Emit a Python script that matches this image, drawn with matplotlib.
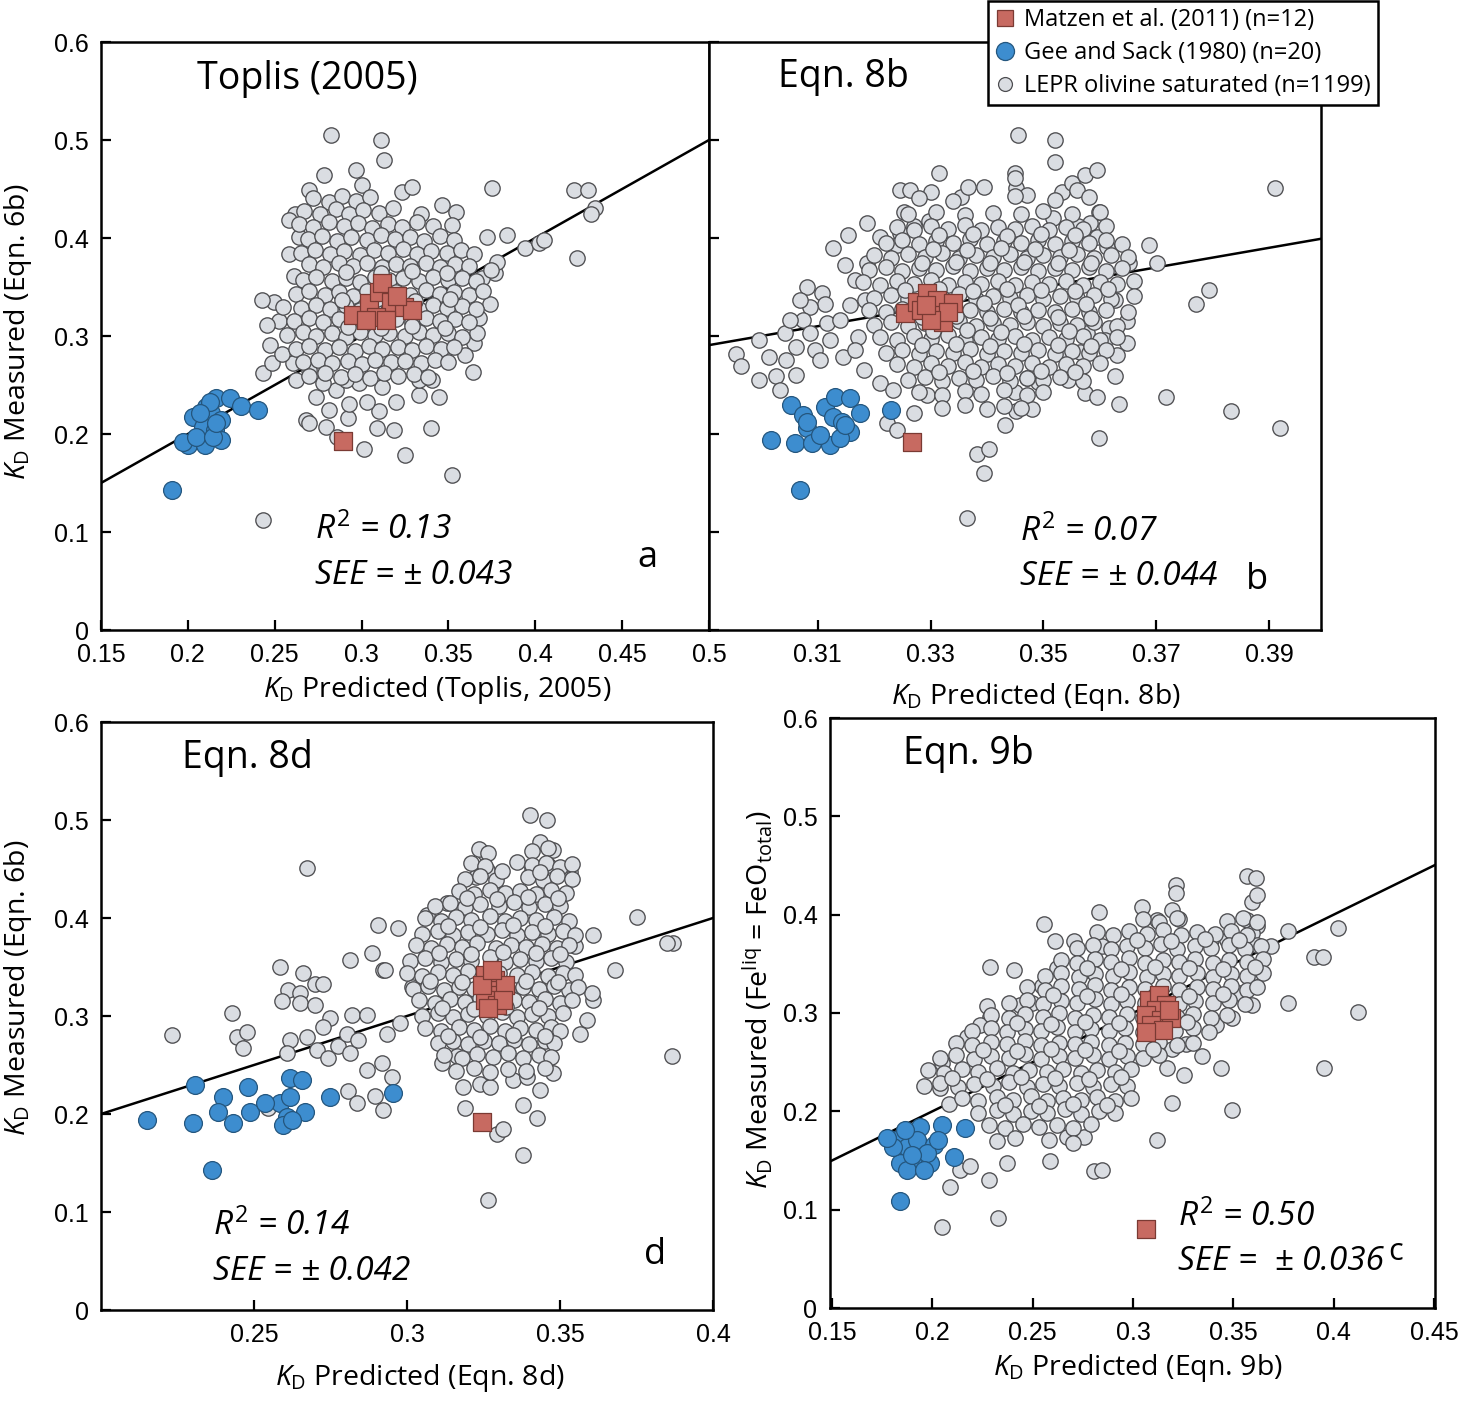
import matplotlib.pyplot as plt
import numpy as np
from matplotlib.lines import Line2D

plt.rcParams['font.family'] = ['Open Sans', 'DejaVu Sans']
plt.rcParams['mathtext.fontset'] = 'custom'
plt.rcParams['mathtext.rm'] = 'Open Sans'
plt.rcParams['mathtext.it'] = 'Open Sans:italic'

# ---- Toplis (2005) panel: [KD predicted, KD measured]
lepr_toplis = np.array([
    # scattered points around the main cloud
    [0.2825, 0.505], [0.3112, 0.500], [0.3129, 0.480], [0.2967, 0.469], [0.2785, 0.464], [0.2699, 0.449],
    [0.3005, 0.454], [0.3234, 0.447], [0.3292, 0.452], [0.3464, 0.434], [0.3541, 0.427], [0.3521, 0.413],
    [0.3751, 0.451], [0.4220, 0.449], [0.4306, 0.449], [0.4346, 0.431], [0.4323, 0.424], [0.3722, 0.401],
    [0.3837, 0.403], [0.3942, 0.390], [0.4019, 0.395], [0.4053, 0.398], [0.4242, 0.380], [0.3770, 0.364],
    [0.3694, 0.359], [0.3741, 0.333], [0.3674, 0.318], [0.3646, 0.293], [0.3640, 0.263], [0.3594, 0.281],
    [0.3663, 0.303], [0.3778, 0.376], [0.3743, 0.367], [0.2619, 0.425], [0.2584, 0.418], [0.2642, 0.401],
    [0.2584, 0.384], [0.2613, 0.361], [0.2498, 0.335], [0.2527, 0.315], [0.2546, 0.330], [0.2429, 0.337],
    [0.2458, 0.311], [0.2431, 0.262], [0.2487, 0.272], [0.2603, 0.272], [0.2699, 0.265], [0.2623, 0.255],
    [0.2680, 0.214], [0.2699, 0.211], [0.2814, 0.225], [0.2795, 0.207], [0.2919, 0.216], [0.2861, 0.197],
    [0.3091, 0.206], [0.3187, 0.204], [0.3397, 0.206], [0.3445, 0.238], [0.3330, 0.240], [0.3197, 0.233],
    [0.3101, 0.223], [0.3034, 0.233], [0.2929, 0.231], [0.2852, 0.245], [0.2776, 0.252], [0.2738, 0.238],
    [0.3407, 0.255], [0.3330, 0.255], [0.3120, 0.248], [0.2986, 0.252], [0.2910, 0.255], [0.2470, 0.291],
    [0.2544, 0.282], [0.2435, 0.112], [0.3520, 0.158], [0.3250, 0.179], [0.3015, 0.185],
    # dense cloud
    [0.272, 0.441], [0.281, 0.437], [0.289, 0.443], [0.297, 0.438], [0.305, 0.442],
    [0.267, 0.428], [0.276, 0.425], [0.285, 0.430], [0.293, 0.424], [0.301, 0.429], [0.310, 0.426],
    [0.318, 0.431], [0.334, 0.424],
    [0.264, 0.414], [0.272, 0.411], [0.281, 0.416], [0.290, 0.412], [0.298, 0.415], [0.306, 0.410],
    [0.315, 0.414], [0.323, 0.411], [0.332, 0.416], [0.341, 0.412],
    [0.269, 0.399], [0.277, 0.402], [0.286, 0.397], [0.294, 0.401], [0.303, 0.398], [0.311, 0.403],
    [0.319, 0.399], [0.328, 0.401], [0.336, 0.397], [0.345, 0.402], [0.353, 0.398],
    [0.265, 0.385], [0.273, 0.388], [0.282, 0.384], [0.290, 0.387], [0.299, 0.383], [0.307, 0.388],
    [0.315, 0.385], [0.324, 0.389], [0.332, 0.384], [0.340, 0.387], [0.349, 0.385], [0.357, 0.388],
    [0.365, 0.384],
    [0.270, 0.373], [0.278, 0.370], [0.287, 0.374], [0.295, 0.371], [0.303, 0.375], [0.312, 0.370],
    [0.320, 0.373], [0.328, 0.371], [0.337, 0.374], [0.345, 0.370], [0.354, 0.373], [0.362, 0.371],
    [0.266, 0.357], [0.274, 0.360], [0.283, 0.356], [0.291, 0.359], [0.299, 0.355], [0.308, 0.360],
    [0.316, 0.357], [0.324, 0.359], [0.333, 0.356], [0.341, 0.360], [0.350, 0.357], [0.358, 0.359],
    [0.366, 0.356],
    [0.262, 0.343], [0.270, 0.346], [0.279, 0.342], [0.287, 0.345], [0.295, 0.341], [0.303, 0.346],
    [0.312, 0.343], [0.320, 0.345], [0.328, 0.342], [0.337, 0.347], [0.345, 0.343], [0.353, 0.345],
    [0.362, 0.342], [0.370, 0.346],
    [0.265, 0.329], [0.274, 0.332], [0.282, 0.328], [0.291, 0.331], [0.299, 0.327], [0.307, 0.332],
    [0.316, 0.329], [0.324, 0.331], [0.333, 0.328], [0.341, 0.332], [0.349, 0.329], [0.358, 0.331],
    [0.366, 0.328],
    [0.261, 0.315], [0.270, 0.318], [0.278, 0.314], [0.287, 0.317], [0.295, 0.313], [0.303, 0.318],
    [0.312, 0.315], [0.320, 0.317], [0.329, 0.314], [0.337, 0.318], [0.345, 0.315], [0.354, 0.317],
    [0.362, 0.314],
    [0.257, 0.301], [0.266, 0.304], [0.274, 0.300], [0.283, 0.303], [0.291, 0.299], [0.299, 0.304],
    [0.308, 0.301], [0.316, 0.303], [0.325, 0.300], [0.333, 0.304], [0.341, 0.301], [0.350, 0.303],
    [0.358, 0.299],
    [0.262, 0.287], [0.270, 0.290], [0.279, 0.286], [0.287, 0.289], [0.296, 0.285], [0.304, 0.290],
    [0.312, 0.287], [0.321, 0.289], [0.329, 0.286], [0.337, 0.290], [0.346, 0.287], [0.353, 0.289],
    [0.266, 0.273], [0.275, 0.276], [0.283, 0.272], [0.292, 0.275], [0.300, 0.271], [0.308, 0.276],
    [0.317, 0.273], [0.325, 0.275], [0.334, 0.272], [0.342, 0.276], [0.350, 0.273],
    [0.270, 0.259], [0.279, 0.262], [0.288, 0.258], [0.296, 0.261], [0.305, 0.257], [0.313, 0.262],
    [0.321, 0.259], [0.330, 0.261], [0.338, 0.258],
    [0.291, 0.365], [0.311, 0.364], [0.329, 0.366], [0.349, 0.364],
    [0.289, 0.337], [0.309, 0.338], [0.331, 0.336], [0.351, 0.338],
    [0.292, 0.309], [0.311, 0.308], [0.329, 0.310], [0.348, 0.308],
])
gee_toplis = np.array([
    [0.2164, 0.2364], [0.2240, 0.2364], [0.2307, 0.2286], [0.2402, 0.2245], [0.2030, 0.2177],
    [0.2106, 0.2279], [0.2135, 0.2211], [0.2192, 0.2143], [0.2087, 0.2074], [0.2154, 0.2041],
    [0.2192, 0.1939], [0.2001, 0.1888], [0.2097, 0.1888], [0.1972, 0.1921], [0.2049, 0.1972],
    [0.2144, 0.1972], [0.1906, 0.1429], [0.2125, 0.2330], [0.2164, 0.2109], [0.2068, 0.2211],
])
matzen_toplis = np.array([
    [0.2948, 0.3214], [0.3043, 0.3334], [0.3101, 0.3452], [0.3168, 0.3350], [0.3244, 0.3299],
    [0.3082, 0.3197], [0.3139, 0.3163], [0.3024, 0.3163], [0.3292, 0.3265], [0.3120, 0.3538],
    [0.3204, 0.3408], [0.2894, 0.1929],
])

# ---- Eqn. 8b panel
lepr_8b = np.array([
    [0.3455, 0.505], [0.3520, 0.500], [0.3520, 0.478], [0.3449, 0.466], [0.3452, 0.451], [0.3470, 0.444],
    [0.3532, 0.447], [0.3550, 0.456], [0.3574, 0.464], [0.3595, 0.469], [0.3559, 0.449], [0.3598, 0.427],
    [0.3517, 0.420], [0.3583, 0.415], [0.3562, 0.412], [0.3595, 0.401], [0.3613, 0.391], [0.3687, 0.393],
    [0.3651, 0.374], [0.3702, 0.374], [0.3794, 0.347], [0.3770, 0.333], [0.3910, 0.451], [0.3627, 0.337],
    [0.3648, 0.315], [0.3616, 0.308], [0.3609, 0.296], [0.3648, 0.293], [0.3630, 0.281], [0.3565, 0.284],
    [0.3532, 0.282], [0.3577, 0.303], [0.3627, 0.259], [0.3544, 0.255], [0.3574, 0.242], [0.3595, 0.238],
    [0.3633, 0.231], [0.3717, 0.238], [0.3833, 0.223], [0.3919, 0.206], [0.3598, 0.196], [0.3479, 0.226],
    [0.3452, 0.223], [0.3491, 0.253], [0.3470, 0.257], [0.3431, 0.209], [0.3449, 0.243],
    [0.2955, 0.282], [0.2964, 0.269], [0.3014, 0.279], [0.3026, 0.259], [0.3044, 0.276], [0.3062, 0.260],
    [0.3041, 0.303], [0.3080, 0.350], [0.3107, 0.344], [0.3113, 0.333], [0.3086, 0.330], [0.3074, 0.316],
    [0.3116, 0.313], [0.3086, 0.303], [0.3095, 0.286], [0.3104, 0.276], [0.3062, 0.289], [0.3127, 0.390],
    [0.3154, 0.403], [0.3187, 0.415], [0.3211, 0.401], [0.3166, 0.357], [0.3187, 0.374], [0.3145, 0.279],
    [0.3184, 0.337], [0.3172, 0.299], [0.3181, 0.265], [0.3211, 0.252], [0.3234, 0.245], [0.3294, 0.240],
    [0.3223, 0.211], [0.3241, 0.204], [0.3270, 0.221], [0.3246, 0.449], [0.3264, 0.449], [0.3300, 0.447],
    [0.3315, 0.466], [0.3252, 0.427], [0.3270, 0.412], [0.3297, 0.417], [0.3246, 0.405], [0.3241, 0.393],
    [0.3354, 0.442], [0.3366, 0.452], [0.3395, 0.452], [0.3449, 0.461], [0.3383, 0.180], [0.3404, 0.185],
    [0.3395, 0.160], [0.3364, 0.114], [0.2996, 0.296], [0.3050, 0.316], [0.3068, 0.337], [0.3032, 0.245],
    [0.2996, 0.255], [0.3121, 0.296], [0.3139, 0.316], [0.3157, 0.332], [0.3148, 0.372], [0.3166, 0.286],
    # dense cloud
    [0.328, 0.441], [0.334, 0.438], [0.345, 0.443], [0.352, 0.439], [0.358, 0.442],
    [0.326, 0.424], [0.331, 0.427], [0.336, 0.423], [0.341, 0.426], [0.346, 0.424], [0.350, 0.428],
    [0.355, 0.424], [0.360, 0.427],
    [0.324, 0.411], [0.327, 0.408], [0.330, 0.412], [0.333, 0.409], [0.336, 0.413], [0.339, 0.408],
    [0.342, 0.411], [0.345, 0.409], [0.348, 0.412], [0.351, 0.408], [0.354, 0.411], [0.357, 0.409],
    [0.361, 0.412],
    [0.322, 0.395], [0.325, 0.398], [0.328, 0.394], [0.331, 0.397], [0.334, 0.395], [0.337, 0.399],
    [0.340, 0.394], [0.343, 0.397], [0.346, 0.395], [0.349, 0.398], [0.352, 0.394], [0.355, 0.397],
    [0.358, 0.395], [0.361, 0.398], [0.364, 0.394],
    [0.320, 0.383], [0.323, 0.380], [0.326, 0.384], [0.329, 0.381], [0.332, 0.385], [0.335, 0.380],
    [0.338, 0.383], [0.341, 0.381], [0.344, 0.384], [0.347, 0.380], [0.350, 0.383], [0.353, 0.381],
    [0.356, 0.384], [0.359, 0.380], [0.362, 0.383], [0.365, 0.381],
    [0.319, 0.367], [0.322, 0.370], [0.325, 0.366], [0.328, 0.369], [0.331, 0.367], [0.334, 0.371],
    [0.337, 0.366], [0.340, 0.369], [0.343, 0.367], [0.346, 0.370], [0.349, 0.366], [0.352, 0.369],
    [0.355, 0.367], [0.358, 0.370], [0.361, 0.366], [0.364, 0.369],
    [0.318, 0.355], [0.321, 0.352], [0.324, 0.356], [0.327, 0.353], [0.330, 0.357], [0.333, 0.352],
    [0.336, 0.355], [0.339, 0.353], [0.342, 0.356], [0.345, 0.352], [0.348, 0.355], [0.351, 0.353],
    [0.354, 0.356], [0.357, 0.352], [0.360, 0.355], [0.363, 0.353], [0.366, 0.356],
    [0.320, 0.339], [0.323, 0.342], [0.326, 0.338], [0.329, 0.341], [0.332, 0.339], [0.335, 0.343],
    [0.338, 0.338], [0.341, 0.341], [0.344, 0.339], [0.347, 0.342], [0.350, 0.338], [0.353, 0.341],
    [0.356, 0.339], [0.359, 0.342], [0.362, 0.338], [0.366, 0.341],
    [0.319, 0.327], [0.322, 0.324], [0.325, 0.328], [0.328, 0.325], [0.331, 0.329], [0.334, 0.324],
    [0.337, 0.327], [0.340, 0.325], [0.343, 0.328], [0.346, 0.324], [0.349, 0.327], [0.352, 0.325],
    [0.355, 0.328], [0.358, 0.324], [0.361, 0.327], [0.365, 0.325],
    [0.320, 0.311], [0.323, 0.314], [0.326, 0.310], [0.329, 0.313], [0.332, 0.311], [0.335, 0.315],
    [0.338, 0.310], [0.341, 0.313], [0.344, 0.311], [0.347, 0.314], [0.350, 0.310], [0.353, 0.313],
    [0.356, 0.311], [0.359, 0.314], [0.363, 0.310],
    [0.321, 0.299], [0.324, 0.296], [0.327, 0.300], [0.330, 0.297], [0.333, 0.301], [0.336, 0.296],
    [0.339, 0.299], [0.342, 0.297], [0.345, 0.300], [0.348, 0.296], [0.351, 0.299], [0.354, 0.297],
    [0.357, 0.300], [0.360, 0.296], [0.363, 0.299],
    [0.322, 0.283], [0.325, 0.286], [0.328, 0.282], [0.331, 0.285], [0.334, 0.283], [0.337, 0.287],
    [0.340, 0.282], [0.343, 0.285], [0.346, 0.283], [0.349, 0.286], [0.352, 0.282], [0.355, 0.285],
    [0.358, 0.283], [0.361, 0.286],
    [0.324, 0.271], [0.327, 0.268], [0.330, 0.272], [0.333, 0.269], [0.336, 0.273], [0.339, 0.268],
    [0.342, 0.271], [0.345, 0.269], [0.348, 0.272], [0.351, 0.268], [0.354, 0.271], [0.357, 0.269],
    [0.360, 0.272],
    [0.326, 0.255], [0.329, 0.258], [0.332, 0.254], [0.335, 0.257], [0.338, 0.255], [0.341, 0.259],
    [0.344, 0.254], [0.347, 0.257], [0.350, 0.255], [0.353, 0.258], [0.357, 0.254],
    [0.328, 0.243], [0.332, 0.240], [0.336, 0.244], [0.339, 0.241], [0.343, 0.245], [0.347, 0.240],
    [0.350, 0.243],
    [0.332, 0.227], [0.336, 0.230], [0.340, 0.226], [0.343, 0.229], [0.346, 0.227],
    # extra points in the core
    [0.3315, 0.403], [0.3375, 0.404], [0.3435, 0.402], [0.3495, 0.404], [0.3555, 0.403],
    [0.3305, 0.389], [0.3365, 0.388], [0.3425, 0.390], [0.3485, 0.389], [0.3545, 0.388],
    [0.3285, 0.375], [0.3345, 0.376], [0.3405, 0.374], [0.3465, 0.376], [0.3525, 0.375], [0.3585, 0.374],
    [0.3255, 0.347], [0.3315, 0.348], [0.3375, 0.346], [0.3435, 0.348], [0.3495, 0.347], [0.3555, 0.346],
    [0.3615, 0.348],
    [0.3275, 0.333], [0.3395, 0.334], [0.3455, 0.332], [0.3575, 0.333],
    [0.3285, 0.319], [0.3345, 0.320], [0.3405, 0.318], [0.3465, 0.320], [0.3525, 0.319], [0.3585, 0.318],
    [0.3305, 0.305], [0.3365, 0.306], [0.3425, 0.304], [0.3545, 0.305],
    [0.3285, 0.291], [0.3345, 0.292], [0.3405, 0.290], [0.3465, 0.292], [0.3525, 0.291], [0.3585, 0.290],
    [0.3315, 0.263], [0.3375, 0.264], [0.3435, 0.262], [0.3495, 0.264], [0.3555, 0.263],
])
gee_8b = np.array([
    [0.3053, 0.2296], [0.3074, 0.2194], [0.3113, 0.2279], [0.3130, 0.2381], [0.3157, 0.2364],
    [0.3175, 0.2217], [0.3127, 0.2177], [0.3142, 0.2126], [0.3080, 0.2058], [0.3157, 0.2024],
    [0.3017, 0.1939], [0.3059, 0.1905], [0.3089, 0.1905], [0.3121, 0.1888], [0.3139, 0.1956],
    [0.3229, 0.2245], [0.3080, 0.2126], [0.3068, 0.1429], [0.3148, 0.2092], [0.3104, 0.1990],
])
matzen_8b = np.array([
    [0.3255, 0.3232], [0.3276, 0.3350], [0.3294, 0.3435], [0.3312, 0.3367], [0.3339, 0.3333],
    [0.3306, 0.3214], [0.3321, 0.3146], [0.3282, 0.3265], [0.3330, 0.3248], [0.3300, 0.3163],
    [0.3291, 0.3316], [0.3267, 0.1921],
])

# ---- Eqn. 8d panel
lepr_8d = np.array([
    [0.2231, 0.281], [0.2427, 0.303], [0.2443, 0.279], [0.2476, 0.284], [0.2465, 0.267], [0.2585, 0.350],
    [0.2661, 0.344], [0.2699, 0.333], [0.2726, 0.333], [0.2814, 0.357], [0.2885, 0.364], [0.2923, 0.347],
    [0.2612, 0.327], [0.2650, 0.323], [0.2591, 0.315], [0.2650, 0.313], [0.2699, 0.311], [0.2748, 0.298],
    [0.2726, 0.289], [0.2618, 0.276], [0.2607, 0.262], [0.2672, 0.279], [0.2705, 0.265], [0.2743, 0.257],
    [0.2775, 0.269], [0.2814, 0.262], [0.2819, 0.301], [0.2868, 0.301], [0.2803, 0.282], [0.2841, 0.276],
    [0.2868, 0.245], [0.2917, 0.252], [0.2950, 0.238], [0.2808, 0.223], [0.2836, 0.211], [0.2895, 0.218],
    [0.2923, 0.204], [0.2547, 0.206], [0.2934, 0.282], [0.2977, 0.293], [0.3015, 0.330], [0.2673, 0.451],
    [0.2905, 0.393], [0.2972, 0.390], [0.3402, 0.505], [0.3457, 0.500], [0.3435, 0.478], [0.3478, 0.469],
    [0.3255, 0.466], [0.3533, 0.447], [0.3500, 0.449], [0.3260, 0.449], [0.3227, 0.442], [0.3407, 0.451],
    [0.3462, 0.454], [0.3750, 0.401], [0.3870, 0.374], [0.3849, 0.374], [0.3680, 0.347], [0.3609, 0.316],
    [0.3603, 0.323], [0.3587, 0.296], [0.3565, 0.282], [0.3865, 0.259], [0.3549, 0.371], [0.3609, 0.383],
    [0.3130, 0.415], [0.3064, 0.403], [0.2928, 0.347], [0.3113, 0.252], [0.3184, 0.228], [0.3189, 0.206],
    [0.3293, 0.180], [0.3315, 0.185], [0.3380, 0.209], [0.3424, 0.196], [0.3435, 0.225], [0.3478, 0.242],
    [0.3239, 0.231], [0.3271, 0.228], [0.3347, 0.235], [0.3391, 0.238], [0.3162, 0.259], [0.3379, 0.158],
    [0.3265, 0.112],
    # dense cloud
    [0.3235, 0.470], [0.3265, 0.466], [0.341, 0.468], [0.346, 0.471],
    [0.321, 0.456], [0.3255, 0.453], [0.336, 0.457], [0.341, 0.454], [0.3455, 0.456], [0.350, 0.452],
    [0.354, 0.455],
    [0.319, 0.440], [0.324, 0.443], [0.329, 0.439], [0.3395, 0.442], [0.3445, 0.439], [0.349, 0.443],
    [0.354, 0.440],
    [0.317, 0.428], [0.322, 0.425], [0.327, 0.429], [0.332, 0.426], [0.337, 0.428], [0.342, 0.425],
    [0.347, 0.429], [0.352, 0.426],
    [0.309, 0.412], [0.314, 0.415], [0.319, 0.411], [0.324, 0.414], [0.330, 0.412], [0.335, 0.416],
    [0.340, 0.411], [0.345, 0.414], [0.350, 0.412],
    [0.306, 0.400], [0.311, 0.397], [0.316, 0.401], [0.321, 0.398], [0.327, 0.402], [0.332, 0.397],
    [0.337, 0.400], [0.342, 0.398], [0.348, 0.401], [0.353, 0.397],
    [0.305, 0.384], [0.310, 0.387], [0.315, 0.383], [0.320, 0.386], [0.326, 0.384], [0.331, 0.388],
    [0.336, 0.383], [0.341, 0.386], [0.346, 0.384], [0.351, 0.387], [0.355, 0.383],
    [0.303, 0.372], [0.308, 0.369], [0.313, 0.373], [0.318, 0.370], [0.323, 0.374], [0.329, 0.369],
    [0.334, 0.372], [0.339, 0.370], [0.344, 0.373], [0.349, 0.369], [0.353, 0.372],
    [0.301, 0.356], [0.306, 0.359], [0.311, 0.355], [0.316, 0.358], [0.321, 0.356], [0.327, 0.360],
    [0.332, 0.355], [0.337, 0.358], [0.342, 0.356], [0.347, 0.359], [0.352, 0.355],
    [0.300, 0.344], [0.305, 0.341], [0.310, 0.345], [0.315, 0.342], [0.320, 0.346], [0.325, 0.341],
    [0.330, 0.344], [0.336, 0.342], [0.341, 0.345], [0.346, 0.341], [0.351, 0.344], [0.355, 0.342],
    [0.302, 0.328], [0.307, 0.331], [0.312, 0.327], [0.317, 0.330], [0.322, 0.328], [0.328, 0.332],
    [0.333, 0.327], [0.338, 0.330], [0.343, 0.328], [0.348, 0.331], [0.353, 0.327], [0.356, 0.330],
    [0.304, 0.316], [0.309, 0.313], [0.314, 0.317], [0.319, 0.314], [0.324, 0.318], [0.330, 0.313],
    [0.335, 0.316], [0.340, 0.314], [0.345, 0.317], [0.350, 0.313], [0.354, 0.316],
    [0.305, 0.300], [0.310, 0.303], [0.315, 0.299], [0.320, 0.302], [0.326, 0.300], [0.331, 0.304],
    [0.336, 0.299], [0.341, 0.302], [0.346, 0.300], [0.351, 0.303],
    [0.306, 0.288], [0.311, 0.285], [0.317, 0.289], [0.322, 0.286], [0.327, 0.290], [0.332, 0.285],
    [0.337, 0.288], [0.342, 0.286], [0.347, 0.289], [0.350, 0.285],
    [0.310, 0.272], [0.315, 0.275], [0.320, 0.271], [0.325, 0.274], [0.330, 0.272], [0.335, 0.276],
    [0.340, 0.271], [0.345, 0.274], [0.348, 0.272],
    [0.312, 0.260], [0.318, 0.257], [0.323, 0.261], [0.328, 0.258], [0.333, 0.262], [0.338, 0.257],
    [0.343, 0.260], [0.347, 0.258],
    [0.316, 0.244], [0.322, 0.247], [0.327, 0.243], [0.333, 0.246], [0.339, 0.244], [0.345, 0.247],
    # extra points in the core
    [0.331, 0.448], [0.3435, 0.447],
    [0.3195, 0.420], [0.3295, 0.419], [0.3395, 0.421], [0.3495, 0.420],
    [0.3135, 0.392], [0.324, 0.391], [0.3345, 0.393], [0.345, 0.392],
    [0.3105, 0.364], [0.321, 0.363], [0.3315, 0.365], [0.342, 0.364], [0.350, 0.363],
    [0.3075, 0.336], [0.318, 0.335], [0.3285, 0.337], [0.339, 0.336], [0.3495, 0.335],
    [0.3115, 0.308], [0.322, 0.307], [0.3325, 0.309], [0.343, 0.308],
    [0.3135, 0.280], [0.324, 0.279], [0.3345, 0.281], [0.345, 0.280],
])
gee_8d = np.array([
    [0.2149, 0.1939], [0.2302, 0.1905], [0.2307, 0.2296], [0.2400, 0.2177], [0.2383, 0.2024],
    [0.2432, 0.1905], [0.2481, 0.2279], [0.2487, 0.2024], [0.2362, 0.1429], [0.2618, 0.2364],
    [0.2656, 0.2347], [0.2585, 0.2109], [0.2618, 0.2177], [0.2607, 0.1972], [0.2667, 0.2024],
    [0.2596, 0.1888], [0.2623, 0.1939], [0.2748, 0.2177], [0.2955, 0.2214], [0.2536, 0.2109],
])
matzen_8d = np.array([
    [0.3255, 0.3418], [0.3288, 0.3367], [0.3271, 0.3265], [0.3304, 0.3214], [0.3255, 0.3163],
    [0.3294, 0.3112], [0.3320, 0.3316], [0.3245, 0.3316], [0.3278, 0.3469], [0.3314, 0.3163],
    [0.3265, 0.3082], [0.3244, 0.1921],
])

# ---- Eqn. 9b panel
lepr_9b = np.array([
    [0.2289, 0.347], [0.2405, 0.344], [0.2272, 0.307], [0.2289, 0.296], [0.2239, 0.288], [0.2173, 0.276],
    [0.2048, 0.249], [0.2039, 0.224], [0.2081, 0.207], [0.2555, 0.391], [0.2613, 0.373], [0.2705, 0.373],
    [0.2829, 0.403], [0.3046, 0.408], [0.2547, 0.327], [0.2439, 0.308], [0.2497, 0.310], [0.2622, 0.346],
    [0.2772, 0.344], [0.2846, 0.368], [0.2588, 0.149], [0.2672, 0.174], [0.2755, 0.174], [0.2805, 0.139],
    [0.2846, 0.140], [0.3121, 0.171], [0.3196, 0.208], [0.2089, 0.123], [0.2281, 0.130], [0.2372, 0.147],
    [0.2139, 0.140], [0.2189, 0.144], [0.2049, 0.082], [0.2329, 0.092], [0.3214, 0.430], [0.3214, 0.422],
    [0.3196, 0.405], [0.3121, 0.395], [0.3229, 0.396], [0.3570, 0.439], [0.3612, 0.437], [0.3595, 0.413],
    [0.3620, 0.420], [0.3570, 0.395], [0.3620, 0.388], [0.3595, 0.381], [0.3770, 0.383], [0.4020, 0.386],
    [0.3687, 0.368], [0.3620, 0.369], [0.3470, 0.374], [0.3387, 0.374], [0.3903, 0.357], [0.3945, 0.357],
    [0.3770, 0.310], [0.4120, 0.301], [0.3595, 0.341], [0.3528, 0.320], [0.3595, 0.308], [0.3495, 0.295],
    [0.3412, 0.288], [0.3262, 0.268], [0.3196, 0.263], [0.3346, 0.256], [0.3437, 0.244], [0.3953, 0.244],
    [0.3254, 0.237], [0.3171, 0.244], [0.3495, 0.201],
    # dense band
    [0.305, 0.396], [0.313, 0.393], [0.322, 0.397], [0.347, 0.394], [0.355, 0.397], [0.362, 0.393],
    [0.282, 0.382], [0.290, 0.379], [0.298, 0.383], [0.307, 0.380], [0.315, 0.384], [0.324, 0.379],
    [0.332, 0.382], [0.341, 0.380], [0.349, 0.383], [0.357, 0.379],
    [0.272, 0.366], [0.280, 0.369], [0.289, 0.365], [0.297, 0.368], [0.306, 0.366], [0.314, 0.370],
    [0.322, 0.365], [0.331, 0.368], [0.339, 0.366], [0.348, 0.369], [0.356, 0.365], [0.364, 0.368],
    [0.264, 0.354], [0.272, 0.351], [0.281, 0.355], [0.289, 0.352], [0.298, 0.356], [0.306, 0.351],
    [0.315, 0.354], [0.323, 0.352], [0.331, 0.355], [0.340, 0.351], [0.348, 0.354], [0.357, 0.352],
    [0.365, 0.355],
    [0.256, 0.338], [0.264, 0.341], [0.273, 0.337], [0.281, 0.340], [0.290, 0.338], [0.298, 0.342],
    [0.307, 0.337], [0.315, 0.340], [0.323, 0.338], [0.332, 0.341], [0.340, 0.337], [0.349, 0.340],
    [0.357, 0.338], [0.365, 0.341],
    [0.247, 0.326], [0.256, 0.323], [0.264, 0.327], [0.273, 0.324], [0.281, 0.328], [0.289, 0.323],
    [0.298, 0.326], [0.306, 0.324], [0.315, 0.327], [0.323, 0.323], [0.332, 0.326], [0.340, 0.324],
    [0.349, 0.327], [0.357, 0.323], [0.362, 0.326],
    [0.238, 0.310], [0.247, 0.313], [0.255, 0.309], [0.264, 0.312], [0.272, 0.310], [0.281, 0.314],
    [0.289, 0.309], [0.297, 0.312], [0.306, 0.310], [0.314, 0.313], [0.323, 0.309], [0.331, 0.312],
    [0.340, 0.310], [0.348, 0.313], [0.356, 0.309],
    [0.229, 0.298], [0.238, 0.295], [0.246, 0.299], [0.255, 0.296], [0.263, 0.300], [0.271, 0.295],
    [0.280, 0.298], [0.288, 0.296], [0.297, 0.299], [0.305, 0.295], [0.314, 0.298], [0.322, 0.296],
    [0.330, 0.299], [0.339, 0.295], [0.347, 0.298],
    [0.220, 0.282], [0.229, 0.285], [0.237, 0.281], [0.246, 0.284], [0.254, 0.282], [0.262, 0.286],
    [0.271, 0.281], [0.279, 0.284], [0.288, 0.282], [0.296, 0.285], [0.305, 0.281], [0.313, 0.284],
    [0.321, 0.282], [0.330, 0.285], [0.338, 0.281],
    [0.212, 0.270], [0.220, 0.267], [0.229, 0.271], [0.237, 0.268], [0.246, 0.272], [0.254, 0.267],
    [0.263, 0.270], [0.271, 0.268], [0.279, 0.271], [0.288, 0.267], [0.296, 0.270], [0.305, 0.268],
    [0.313, 0.271], [0.322, 0.267], [0.330, 0.270],
    [0.204, 0.254], [0.212, 0.257], [0.221, 0.253], [0.229, 0.256], [0.238, 0.254], [0.246, 0.258],
    [0.254, 0.253], [0.263, 0.256], [0.271, 0.254], [0.280, 0.257], [0.288, 0.253], [0.297, 0.256],
    [0.305, 0.254], [0.313, 0.257],
    [0.198, 0.242], [0.206, 0.239], [0.215, 0.243], [0.223, 0.240], [0.232, 0.244], [0.240, 0.239],
    [0.248, 0.242], [0.257, 0.240], [0.265, 0.243], [0.274, 0.239], [0.282, 0.242], [0.291, 0.240],
    [0.299, 0.243],
    [0.196, 0.226], [0.204, 0.229], [0.213, 0.225], [0.221, 0.228], [0.230, 0.226], [0.238, 0.230],
    [0.247, 0.225], [0.255, 0.228], [0.263, 0.226], [0.272, 0.229], [0.280, 0.225], [0.289, 0.228],
    [0.297, 0.226],
    [0.215, 0.214], [0.223, 0.211], [0.232, 0.215], [0.240, 0.212], [0.249, 0.216], [0.257, 0.211],
    [0.265, 0.214], [0.274, 0.212], [0.282, 0.215], [0.291, 0.211], [0.299, 0.214],
    [0.223, 0.198], [0.232, 0.201], [0.240, 0.197], [0.249, 0.200], [0.257, 0.198], [0.266, 0.202],
    [0.274, 0.197], [0.283, 0.200], [0.291, 0.198],
    [0.228, 0.186], [0.236, 0.183], [0.245, 0.187], [0.253, 0.184], [0.262, 0.186], [0.270, 0.183],
    [0.279, 0.187],
    [0.232, 0.170], [0.241, 0.173], [0.258, 0.171], [0.270, 0.168],
    # extra points in the core
    [0.302, 0.374], [0.319, 0.373], [0.336, 0.375], [0.353, 0.374],
    [0.277, 0.346], [0.294, 0.345], [0.311, 0.347], [0.328, 0.346], [0.345, 0.345], [0.361, 0.347],
    [0.260, 0.318], [0.277, 0.317], [0.294, 0.319], [0.311, 0.318], [0.328, 0.317], [0.345, 0.319],
    [0.242, 0.290], [0.259, 0.289], [0.276, 0.291], [0.293, 0.290], [0.310, 0.289], [0.327, 0.291],
    [0.225, 0.262], [0.242, 0.261], [0.259, 0.263], [0.276, 0.262], [0.293, 0.261], [0.310, 0.263],
    [0.210, 0.234], [0.227, 0.233], [0.244, 0.235], [0.261, 0.234], [0.278, 0.233], [0.294, 0.235],
    [0.236, 0.206], [0.253, 0.205], [0.270, 0.207], [0.287, 0.206],
])
gee_9b = np.array([
    [0.1815, 0.1709], [0.1873, 0.1641], [0.1939, 0.1845], [0.2048, 0.1862], [0.2164, 0.1828],
    [0.1923, 0.1709], [0.2006, 0.1658], [0.1840, 0.1472], [0.1923, 0.1506], [0.1989, 0.1472],
    [0.2106, 0.1540], [0.1873, 0.1404], [0.1973, 0.1574], [0.1840, 0.1089], [0.1898, 0.1557],
    [0.1956, 0.1404], [0.1806, 0.1641], [0.1775, 0.1729], [0.2029, 0.1709], [0.1864, 0.1811],
])
matzen_9b = np.array([
    [0.3078, 0.3133], [0.3128, 0.3184], [0.3162, 0.3082], [0.3113, 0.3032], [0.3063, 0.2981],
    [0.3138, 0.2930], [0.3187, 0.2950], [0.3088, 0.2879], [0.3148, 0.2828], [0.3063, 0.2808],
    [0.3177, 0.3032], [0.3063, 0.0804],
])

titles = ['Toplis (2005)', 'Eqn. 8b', 'Eqn. 8d', 'Eqn. 9b']
r2 = ['0.13', '0.07', '0.14', '0.50']
see = ['± 0.043', '± 0.044', '± 0.042', ' ± 0.036']
letters = ['a', 'b', 'd', 'c']
legend_labels = ['Matzen et al. (2011) (n=12)', 'Gee and Sack (1980) (n=20)',
                 'LEPR olivine saturated (n=1199)']

grey, grey_edge = '#dadde2', '#4d4d50'
blue, blue_edge = '#3d8dcf', '#24567e'
red, red_edge = '#c76a61', '#7a3a33'

W, H = 1471, 1401
fig = plt.figure(figsize=(W / 100, H / 100), dpi=100)


def px(x0, y0, x1, y1):
    return [x0 / W, 1 - y1 / H, (x1 - x0) / W, (y1 - y0) / H]


def panel(rect, xlim, xticks, lepr, gee, matzen, ylabels=True):
    ax = fig.add_axes(rect)
    ax.plot(xlim, xlim, color='k', lw=1.8, zorder=1)
    ax.scatter(lepr[:, 0], lepr[:, 1], s=122, c=grey, edgecolors=grey_edge, linewidths=0.95, zorder=2)
    ax.scatter(gee[:, 0], gee[:, 1], s=165, c=blue, edgecolors=blue_edge, linewidths=0.9, zorder=3)
    ax.scatter(matzen[:, 0], matzen[:, 1], s=150, marker='s', c=red, edgecolors=red_edge,
               linewidths=0.9, zorder=4)
    ax.set_xlim(xlim)
    ax.set_ylim(0, 0.6)
    ax.set_xticks(xticks)
    ax.set_xticklabels(['%g' % t for t in xticks])
    yt = np.arange(0, 0.61, 0.1)
    ax.set_yticks(yt)
    if ylabels:
        ax.set_yticklabels(['%g' % round(t, 1) for t in yt])
    else:
        ax.set_yticklabels([])
    ax.tick_params(direction='in', length=7, width=1.6, labelsize=18, pad=9,
                   labelfontfamily='Liberation Sans')
    for s in ax.spines.values():
        s.set_linewidth(1.8)
    return ax


ax_a = panel(px(101, 42, 709, 630), (0.15, 0.5), [0.15, 0.2, 0.25, 0.3, 0.35, 0.4, 0.45, 0.5],
             lepr_toplis, gee_toplis, matzen_toplis)
ax_b = panel(px(709, 42, 1321, 630), (0.2907, 0.3992), [0.31, 0.33, 0.35, 0.37, 0.39],
             lepr_8b, gee_8b, matzen_8b, ylabels=False)
ax_d = panel(px(101, 722, 713, 1310), (0.2, 0.4), [0.25, 0.3, 0.35, 0.4],
             lepr_8d, gee_8d, matzen_8d)
ax_c = panel(px(830, 718, 1435, 1308), (0.149, 0.4505), [0.15, 0.2, 0.25, 0.3, 0.35, 0.4, 0.45],
             lepr_9b, gee_9b, matzen_9b)


def ft(x, y, s, **kw):
    fig.text(x / W, 1 - y / H, s, **kw)


# panel titles
for (x, y), t in zip([(197, 79), (778, 77), (182, 758), (903, 754)], titles):
    ft(x, y, t, fontsize=27, va='center')

# fit statistics and panel letters
for (x, y), r, e in zip([(315, 530), (1020, 532), (213, 1226), (1178, 1217)], r2, see):
    ft(x, y, r'$\mathit{R^{2}}$ = ' + r, fontsize=24, style='italic', va='center')
    ft(x, y + 45, 'SEE = ' + e, fontsize=24, style='italic', va='center')
for (x, y), l, fs in zip([(647, 558), (1257, 580), (655, 1255), (1396, 1252)], letters, [26, 26, 26, 22]):
    ft(x, y, l, fontsize=fs, ha='center', va='center')

# axis labels
kd = r'$\mathit{K}_{\mathrm{D}}$'
ft(437, 690, kd + ' Predicted (Toplis, 2005)', fontsize=20.5, ha='center', va='center')
ft(1036, 697, kd + ' Predicted (Eqn. 8b)', fontsize=20.5, ha='center', va='center')
ft(420, 1378, kd + ' Predicted (Eqn. 8d)', fontsize=20.5, ha='center', va='center')
ft(1138, 1368, kd + ' Predicted (Eqn. 9b)', fontsize=20.5, ha='center', va='center')
ft(18, 332, kd + ' Measured (Eqn. 6b)', fontsize=20.5, ha='center', va='center', rotation=90)
ft(18, 988, kd + ' Measured (Eqn. 6b)', fontsize=20.5, ha='center', va='center', rotation=90)
ft(758, 1000, kd + r' Measured (Fe$^{\mathrm{liq}}$ = FeO$_{\mathrm{total}}$)', fontsize=20.5,
   ha='center', va='center', rotation=90)

handles = [
    Line2D([], [], ls='none', marker='s', ms=12, mfc=red, mec=red_edge, mew=0.9),
    Line2D([], [], ls='none', marker='o', ms=13, mfc=blue, mec=blue_edge, mew=0.9),
    Line2D([], [], ls='none', marker='o', ms=10, mfc=grey, mec=grey_edge, mew=0.9),
]
leg = fig.legend(handles, legend_labels, loc='upper right', bbox_to_anchor=(1378 / W, 1 - 1 / H),
                 fontsize=17, frameon=True, fancybox=False, edgecolor='k', framealpha=1,
                 handlelength=0.9, handletextpad=0.35, borderpad=0.3, labelspacing=0.38,
                 borderaxespad=0)
leg.get_frame().set_linewidth(1.8)

fig.savefig('out.png', dpi=100)
